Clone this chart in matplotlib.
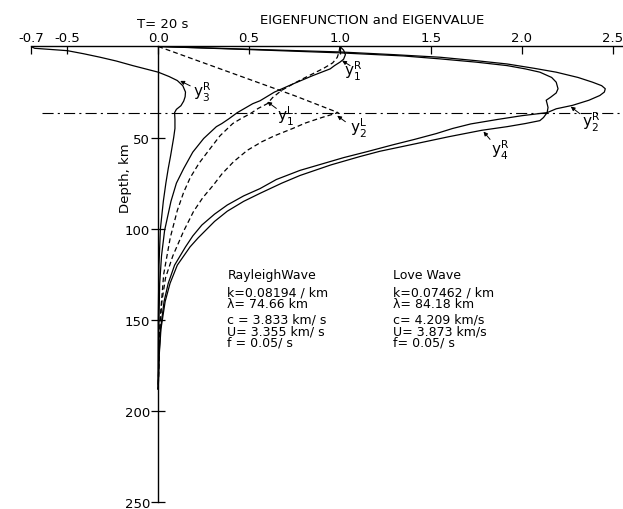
#!/usr/bin/env python3
"""Eigenfunctions of 20 s Rayleigh and Love waves versus depth."""

import matplotlib
matplotlib.use("Agg")
import matplotlib.pyplot as plt

plt.rcParams["font.family"] = ["DejaVu Sans"]
plt.rcParams["mathtext.fontset"] = "dejavusans"
plt.rcParams["lines.scale_dashes"] = False

# depth (km) / value pairs
Y3R_DEPTH = [0, 1, 2.3, 4, 5.9, 8, 10.5, 12.3, 14.1, 16.5, 18.7, 21.5, 25, 27.6,
             30, 32.5, 34.5, 36.3, 40, 45, 50, 60, 67, 75, 85, 100, 120, 150, 188]
Y3R_VALUE = [-0.70, -0.68, -0.50, -0.41, -0.32, -0.23, -0.14, -0.07, 0.0, 0.06,
             0.105, 0.135, 0.15, 0.148, 0.14, 0.125, 0.10, 0.09, 0.092, 0.092,
             0.085, 0.068, 0.055, 0.042, 0.028, 0.012, 0.004, 0.0, 0.0]

Y1R_DEPTH = [0, 2, 4.5, 7, 8.6, 10.5, 12.3, 16, 20.5, 25, 29.8, 31.4, 34, 36.3,
             39.6, 42.3, 44, 50.5, 58, 67, 75, 85, 101, 115, 130, 160, 188]
Y1R_VALUE = [1.0, 1.02, 1.03, 1.02, 1.0, 0.97, 0.946, 0.85, 0.743, 0.64, 0.56,
             0.52, 0.475, 0.435, 0.39, 0.35, 0.32, 0.25, 0.19, 0.14, 0.10, 0.07,
             0.035, 0.018, 0.008, 0.002, 0.0]

Y1L_DEPTH = [0, 3, 6, 9, 12, 15, 18, 20.5, 24, 28, 31.4, 34, 36.9, 39.6, 42.3,
             49, 56, 64, 72, 80, 90, 105, 125, 150, 188]
Y1L_VALUE = [1.0, 0.995, 0.985, 0.96, 0.91, 0.85, 0.79, 0.743, 0.68, 0.63, 0.60,
             0.55, 0.506, 0.455, 0.41, 0.34, 0.286, 0.225, 0.176, 0.14, 0.105,
             0.066, 0.03, 0.01, 0.0]

Y2L_DEPTH = [0, 9, 18, 27, 36.3, 39, 42, 45, 49, 52.3, 57, 63.3, 70, 76, 83,
             90.6, 101.5, 115, 127, 140, 160, 188]
Y2L_VALUE = [0.0, 0.25, 0.5, 0.75, 0.99, 0.90, 0.81, 0.74, 0.64, 0.57, 0.49,
             0.414, 0.35, 0.304, 0.245, 0.194, 0.139, 0.08, 0.04, 0.02, 0.005, 0.0]

Y2R_DEPTH = [0, 1.5, 3.0, 4.5, 5.9, 7.8, 9.6, 12, 14.1, 17, 19.6, 21.5, 23.2, 25,
             26.9, 29.5, 32.3, 34.2, 36.3, 38, 40, 42.5, 45, 47.8, 51, 54, 57.7,
             61, 64.5, 68, 73, 78, 82, 87, 92, 98, 104, 110, 120, 130, 140, 155,
             170, 188]
Y2R_VALUE = [0.0, 0.5, 1.0, 1.3, 1.55, 1.75, 1.92, 2.07, 2.19, 2.31, 2.39, 2.44,
             2.46, 2.455, 2.43, 2.37, 2.28, 2.19, 2.14, 2.0, 1.87, 1.72, 1.62,
             1.53, 1.41, 1.29, 1.15, 1.02, 0.90, 0.78, 0.65, 0.56, 0.47, 0.38,
             0.31, 0.24, 0.19, 0.15, 0.09, 0.055, 0.032, 0.013, 0.004, 0.0]

Y4R_DEPTH = [0, 1.7, 3.5, 5.2, 6.8, 8.6, 10.5, 12.3, 14.1, 17, 19.6, 23.2, 25.5,
             27.8, 29.5, 31.4, 33.5, 36.3, 39, 40.7, 42.3, 44, 46, 49.5, 53.3,
             57.5, 60.4, 65, 70.8, 75, 80.6, 85, 90.4, 96, 101, 105, 110, 120,
             130, 140, 155, 170, 188]
Y4R_VALUE = [0.0, 0.5, 1.0, 1.35, 1.55, 1.75, 1.92, 2.02, 2.10, 2.165, 2.19, 2.20,
             2.19, 2.16, 2.135, 2.14, 2.145, 2.14, 2.12, 2.10, 2.02, 1.92, 1.78,
             1.60, 1.42, 1.22, 1.11, 0.95, 0.78, 0.68, 0.56, 0.47, 0.38, 0.31,
             0.26, 0.22, 0.175, 0.105, 0.065, 0.038, 0.015, 0.005, 0.0]

MOHO_DEPTH = 36.3
X_TICKS = [-0.7, -0.5, 0.0, 0.5, 1.0, 1.5, 2.0, 2.5]
X_TICK_LABELS = ["-0.7", "-0.5", "0.0", "0.5", "1.0", "1.5", "2.0", "2.5"]
Y_TICKS = [50, 100, 150, 200, 250]

RAYLEIGH_TEXT = ["RayleighWave",
                 "k=0.08194 / km\n\u03bb= 74.66 km",
                 "c = 3.833 km/ s\nU= 3.355 km/ s\nf = 0.05/ s"]
LOVE_TEXT = ["Love Wave",
             "k=0.07462 / km\n\u03bb= 84.18 km",
             "c= 4.209 km/s\nU= 3.873 km/s\nf= 0.05/ s"]
TEXT_DEPTHS = [125, 137.7, 156]

# (label, label position, arrow tail, arrow head) in data units
CURVE_LABELS = [
    (r"$\mathrm{y}_3^\mathrm{R}$", (0.24, 24.9), (0.176, 21.6), (0.121, 18.9)),
    (r"$\mathrm{y}_1^\mathrm{R}$", (1.075, 13.0), (1.056, 10.5), (1.012, 7.8)),
    (r"$\mathrm{y}_1^\mathrm{L}$", (0.70, 38.0), (0.65, 34.0), (0.60, 30.3)),
    (r"$\mathrm{y}_2^\mathrm{L}$", (1.10, 44.5), (1.03, 41.3), (0.985, 38.0)),
    (r"$\mathrm{y}_2^\mathrm{R}$", (2.38, 41.0), (2.32, 36.9), (2.27, 33.0)),
    (r"$\mathrm{y}_4^\mathrm{R}$", (1.88, 56.5), (1.826, 51.0), (1.79, 46.7)),
]

fig = plt.figure(figsize=(6.23, 5.10), dpi=100)
ax = fig.add_axes([0.0498, 0.0137, 0.948, 0.8932])
ax.set_xlim(-0.7, 2.55)
ax.set_ylim(250, 0)

solid = dict(color="black", lw=0.9)
dashed = dict(color="black", lw=0.9, linestyle=(0, (3.5, 2.2)))
ax.plot(Y3R_VALUE, Y3R_DEPTH, **solid)
ax.plot(Y1R_VALUE, Y1R_DEPTH, **solid)
ax.plot(Y2R_VALUE, Y2R_DEPTH, **solid)
ax.plot(Y4R_VALUE, Y4R_DEPTH, **solid)
ax.plot(Y1L_VALUE, Y1L_DEPTH, **dashed)
ax.plot(Y2L_VALUE, Y2L_DEPTH, **dashed)

ax.plot([-0.64, 2.55], [MOHO_DEPTH, MOHO_DEPTH], color="black", lw=0.8,
        linestyle=(0, (8, 3, 1.5, 3)))

for side in ("right", "bottom"):
    ax.spines[side].set_visible(False)
ax.spines["top"].set_linewidth(1.0)
ax.spines["left"].set_position(("data", 0))
ax.spines["left"].set_linewidth(1.0)

ax.xaxis.tick_top()
ax.set_xticks(X_TICKS)
ax.set_xticklabels(X_TICK_LABELS)
ax.tick_params(axis="x", direction="in", length=6, width=0.9, pad=2,
               labelsize=9.5)
ax.set_yticks(Y_TICKS)
ax.set_yticklabels([str(t) for t in Y_TICKS])
ax.tick_params(axis="y", direction="inout", length=10, width=0.9, pad=1,
               labelsize=9.5)

fig.text(163 / 623, 1 - 24 / 510, "T= 20 s", ha="center", va="center",
         fontsize=9.5)
fig.text(372 / 623, 1 - 21 / 510, "EIGENFUNCTION and EIGENVALUE",
         ha="center", va="center", fontsize=9.5)
fig.text(125 / 623, 1 - 178 / 510, "Depth, km", rotation=90, ha="center",
         va="center", fontsize=9.5)

for txt, d in zip(RAYLEIGH_TEXT, TEXT_DEPTHS):
    ax.text(0.38, d, txt, ha="left", va="center", fontsize=9, linespacing=0.85)
for txt, d in zip(LOVE_TEXT, TEXT_DEPTHS):
    ax.text(1.293, d, txt, ha="left", va="center", fontsize=9, linespacing=0.85)

for label, pos, tail, head in CURVE_LABELS:
    ax.text(pos[0], pos[1], label, ha="center", va="center", fontsize=11)
    ax.annotate("", xy=head, xytext=tail,
                arrowprops=dict(arrowstyle="-|>", lw=0.7, color="black",
                                mutation_scale=6, shrinkA=0, shrinkB=0))

fig.savefig("out.png", dpi=100, facecolor="white")
